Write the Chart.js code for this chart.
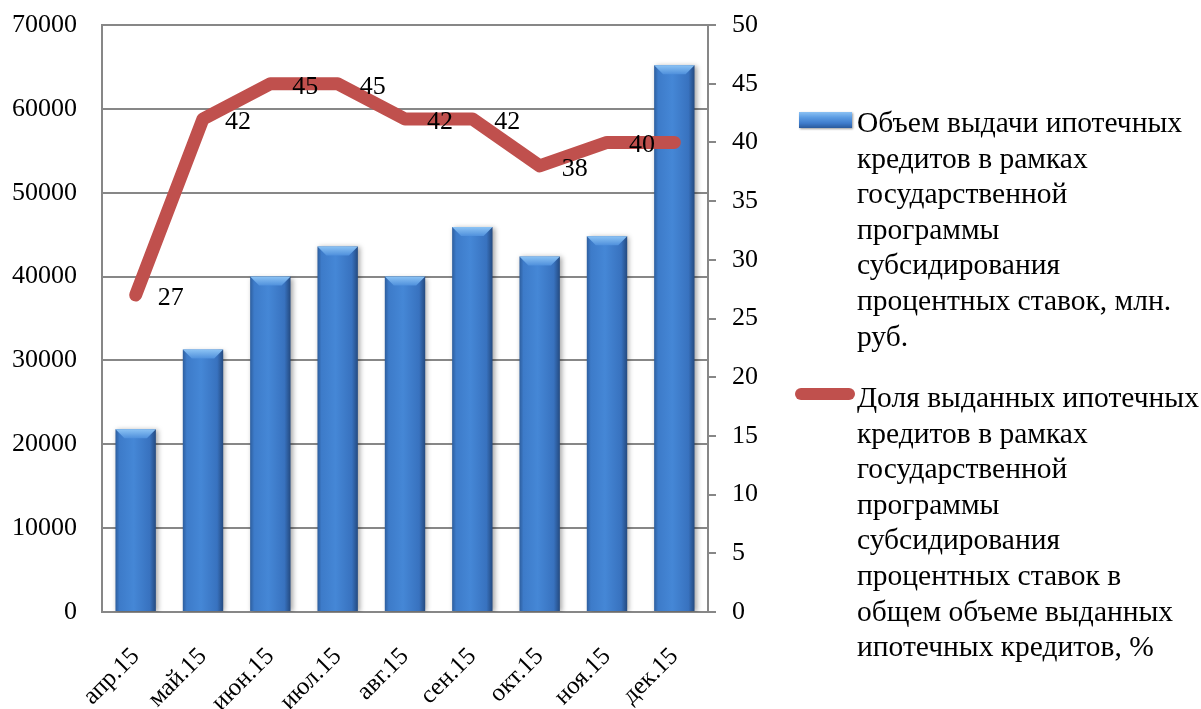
<!DOCTYPE html>
<html lang="ru">
<head>
<meta charset="utf-8">
<title>Ипотечные кредиты 2015</title>
<script src="https://cdn.jsdelivr.net/npm/chart.js@4.4.1/dist/chart.umd.min.js"></script>
<style>
  html, body { margin: 0; padding: 0; background: #fff; }
  #wrap { position: relative; width: 1201px; height: 709px; overflow: hidden; }
  #chart { position: absolute; left: 0; top: 0; }
  .legend-item { position: absolute; font-family: 'Liberation Serif', 'Times New Roman', serif; font-size: 29.5px; line-height: 35.6px; color: #000; white-space: nowrap; }
  .marker { position: absolute; }
</style>
</head>
<body>
<div id="wrap">
  <canvas id="chart" width="1201" height="709"></canvas>
  <div class="marker" id="m1" style="left:799px;top:112px;width:53px;height:16px;"></div>
  <div class="legend-item" id="l1" style="left:857px;top:105px;"></div>
  <div class="marker" id="m2" style="left:795px;top:388px;width:60px;height:12px;border-radius:6px;background:#C0504D;"></div>
  <div class="legend-item" id="l2" style="left:857px;top:380px;"></div>
</div>
<script>
// data
const months = ['апр.15', 'май.15', 'июн.15', 'июл.15', 'авг.15', 'сен.15', 'окт.15', 'ноя.15', 'дек.15'];
const volume = [21800, 31300, 40000, 43600, 40000, 45900, 42400, 44800, 65200];
const share = [27, 42, 45, 45, 42, 42, 38, 40, 40];

const volumeName = ['Объем выдачи ипотечных', 'кредитов в рамках', 'государственной', 'программы', 'субсидирования', 'процентных ставок, млн.', 'руб.'];
const shareName = ['Доля выданных ипотечных', 'кредитов в рамках', 'государственной', 'программы', 'субсидирования', 'процентных ставок в', 'общем объеме выданных', 'ипотечных кредитов, %'];

const leftMax = 70000, leftStep = 10000;
const rightMax = 50, rightStep = 5;

const serif = "'Liberation Serif', 'Times New Roman', serif";
const gridGray = '#878787';
const red = '#C0504D';

document.getElementById('l1').innerHTML = volumeName.join('<br>');
document.getElementById('l2').innerHTML = shareName.join('<br>');
document.getElementById('m1').style.background =
    'linear-gradient(to bottom, #8cc2f4 0%, #5b9be2 35%, #3f7ccc 70%, #2a5a9c 100%)';
document.getElementById('m1').style.boxShadow = '1px 1px 2px rgba(0,0,0,0.4)';

// horizontal gradient across each bar, from the x scale
function barFill(ctx) {
    const chart = ctx.chart;
    const xs = chart.scales.x;
    if (!chart.chartArea || !xs) return '#3F7FCF';
    const cx = xs.getPixelForValue(ctx.dataIndex);
    const w = (xs.width / months.length) * 0.6;
    const g = chart.ctx.createLinearGradient(cx - w / 2, 0, cx + w / 2, 0);
    g.addColorStop(0, '#2d5e9e');
    g.addColorStop(0.1, '#3d7bc9');
    g.addColorStop(0.45, '#4587d6');
    g.addColorStop(0.85, '#3872bf');
    g.addColorStop(1, '#244a80');
    return g;
}

const barDeco = {
    id: 'barDeco',
    beforeDatasetDraw(chart, args) {
        if (args.meta.type !== 'bar') return;
        const c = chart.ctx;
        c.save();
        c.shadowColor = 'rgba(0,0,0,0.35)';
        c.shadowBlur = 5;
        c.shadowOffsetX = 2;
        c.shadowOffsetY = 1;
    },
    afterDatasetDraw(chart, args) {
        if (args.meta.type !== 'bar') return;
        const c = chart.ctx;
        c.restore();
        args.meta.data.forEach(function (bar) {
            const l = bar.x - bar.width / 2, r = bar.x + bar.width / 2, t = bar.y, d = 9;
            const g = c.createLinearGradient(0, t, 0, t + d);
            g.addColorStop(0, '#8cc3f4');
            g.addColorStop(1, '#4f90dc');
            c.beginPath();
            c.moveTo(l, t);
            c.lineTo(r, t);
            c.lineTo(r - d, t + d);
            c.lineTo(l + d, t + d);
            c.closePath();
            c.fillStyle = g;
            c.fill();
        });
    }
};

// value labels right of the line points (the last one is not shown in the source)
const pointLabels = {
    id: 'pointLabels',
    afterDatasetsDraw(chart) {
        const c = chart.ctx;
        const meta = chart.getDatasetMeta(0);
        c.save();
        c.font = '26px ' + serif;
        c.fillStyle = '#000';
        c.textAlign = 'left';
        c.textBaseline = 'middle';
        meta.data.forEach(function (pt, i) {
            if (i === share.length - 1) return;
            c.fillText(String(share[i]), pt.x + 22, pt.y + 3);
        });
        c.restore();
    }
};

// y axes: fixed width, and no extra padding above the top tick
function fitY(w) {
    return function (scale) {
        scale.width = w;
        scale.paddingTop = 0;
        scale.paddingBottom = 0;
    };
}

const chartEl = document.getElementById('chart').getContext('2d');

let combo = new Chart(chartEl, {
    data: {
        labels: months,
        datasets: [
            {
                type: 'line',
                label: shareName.join(' '),
                data: share,
                yAxisID: 'y1',
                borderColor: red,
                backgroundColor: red,
                borderWidth: 13,
                borderCapStyle: 'round',
                borderJoinStyle: 'round',
                pointRadius: 0,
                tension: 0,
                order: 0,
            },
            {
                type: 'bar',
                label: volumeName.join(' '),
                data: volume,
                yAxisID: 'y',
                backgroundColor: barFill,
                borderWidth: 0,
                categoryPercentage: 1,
                barPercentage: 0.6,
                order: 1,
            },
        ],
    },
    options: {
        responsive: false,
        animation: false,
        layout: {
            padding: { top: 25, right: 433, bottom: 0, left: 0 },
        },
        plugins: {
            legend: { display: false },
            tooltip: { enabled: false },
        },
        scales: {
            x: {
                offset: true,
                grid: { display: false },
                border: { display: true, color: gridGray, width: 2 },
                ticks: {
                    autoSkip: false,
                    minRotation: 45,
                    maxRotation: 45,
                    padding: 22,
                    color: '#000',
                    font: { family: serif, size: 25 },
                },
                afterFit: function (scale) { scale.height = 97; },
            },
            y: {
                position: 'left',
                min: 0,
                max: leftMax,
                grid: { color: gridGray, lineWidth: 2, drawTicks: false },
                border: { display: true, color: gridGray, width: 2 },
                ticks: {
                    stepSize: leftStep,
                    padding: 25,
                    color: '#000',
                    font: { family: serif, size: 26 },
                    callback: function (v) { return String(v); },
                },
                afterFit: fitY(102),
            },
            y1: {
                position: 'right',
                min: 0,
                max: rightMax,
                grid: { drawOnChartArea: false, drawTicks: true, tickLength: 8, color: gridGray, lineWidth: 2 },
                border: { display: true, color: gridGray, width: 2 },
                ticks: {
                    stepSize: rightStep,
                    padding: 16,
                    color: '#000',
                    font: { family: serif, size: 26 },
                },
                afterFit: fitY(60),
            },
        },
    },
    plugins: [barDeco, pointLabels],
});
</script>
</body>
</html>
